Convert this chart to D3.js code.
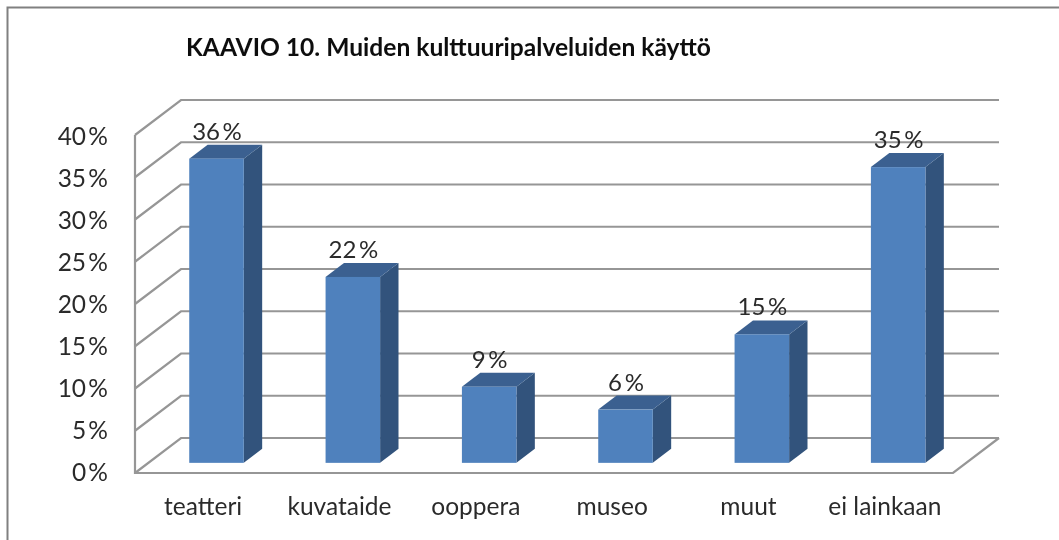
<!DOCTYPE html>
<html>
	<head>
		<meta charset="utf-8">
		<style type="text/css">
			html, body { margin: 0; padding: 0; background: #fff; overflow: hidden; }
			text { font-family: Lato, "Open Sans", sans-serif; fill: #2b2b2b; }
		</style>
		<title>KAAVIO 10</title>
	</head>
	<body>
		<script src="https://cdn.jsdelivr.net/npm/d3@7/dist/d3.min.js"></script>
		<script>
		var categories = ["teatteri", "kuvataide", "ooppera", "museo", "muut", "ei lainkaan"];
		var values = [36, 22, 9, 6.3, 15.2, 35];
		var labels = ["36 %", "22 %", "9 %", "6 %", "15 %", "35 %"];
		var ticks = [0, 5, 10, 15, 20, 25, 30, 35, 40];

		var width = 1059, height = 540;
		var depthX = 46, depthY = -35;
		var barFront = 0.29, barBack = 0.69;

		var svg = d3.select("body").append("svg")
			.attr("width", width)
			.attr("height", height);

		var x = d3.scaleBand().domain(categories).range([135, 953]).paddingInner(0.6).paddingOuter(0.3);
		var y = d3.scaleLinear().domain([0, 40]).range([473, 135]);
		// tick labels sit on a slightly tighter spacing than the grid
		var yLabel = d3.scaleLinear().domain([0, 40]).range([481, 145]);

		// a little blur, the reference is an upscaled screenshot
		svg.append("filter").attr("id", "soft")
			.attr("filterUnits", "userSpaceOnUse")
			.attr("x", 0).attr("y", 0).attr("width", width).attr("height", height)
			.append("feGaussianBlur").attr("stdDeviation", 0.5);

		var root = svg.append("g").attr("filter", "url(#soft)");

		// outer frame, runs off the right and bottom of the picture
		root.append("path")
			.attr("d", "M7.5,545 V7.5 H1065")
			.attr("fill", "none")
			.attr("stroke", "#808080")
			.attr("stroke-width", 2);

		// walls and grid
		var grid = root.append("g").attr("fill", "none").attr("stroke", "#969696").attr("stroke-width", 2.2);
		grid.selectAll("path.grid").data(ticks).enter()
			.append("path")
			.attr("class", "grid")
			.attr("d", function(d) {
				var l = x.range()[0], r = x.range()[1], py = y(d);
				return "M" + l + "," + py + " L" + (l + depthX) + "," + (py + depthY) + " L" + (r + depthX) + "," + (py + depthY);
			});
		grid.append("path")
			.attr("d", "M" + x.range()[0] + "," + y(40) + " L" + x.range()[0] + "," + y(0) + " L" + x.range()[1] + "," + y(0) + " L" + (x.range()[1] + depthX) + "," + (y(0) + depthY));

		// bars
		var bars = root.selectAll("g.bar").data(categories).enter()
			.append("g")
			.attr("class", "bar");

		function fx(d) { return x(d) + depthX * barFront; }
		function fy(i) { return y(values[i]) + depthY * barFront; }
		function base() { return y(0) + depthY * barFront; }
		var dx = depthX * (barBack - barFront), dy = depthY * (barBack - barFront);

		bars.append("path")
			.attr("fill", "#31527b")
			.attr("d", function(d, i) {
				var r = fx(d) + x.bandwidth();
				return "M" + r + "," + fy(i) + " L" + (r + dx) + "," + (fy(i) + dy) + " L" + (r + dx) + "," + (base() + dy) + " L" + r + "," + base() + "Z";
			});
		bars.append("path")
			.attr("fill", "#3a6090")
			.attr("d", function(d, i) {
				var l = fx(d), r = l + x.bandwidth();
				return "M" + l + "," + fy(i) + " L" + (l + dx) + "," + (fy(i) + dy) + " L" + (r + dx) + "," + (fy(i) + dy) + " L" + r + "," + fy(i) + "Z";
			});
		bars.append("rect")
			.attr("fill", "#4f81bd")
			.attr("x", fx)
			.attr("y", function(d, i) { return fy(i); })
			.attr("width", x.bandwidth())
			.attr("height", function(d, i) { return base() - fy(i); });

		// value labels
		root.selectAll("text.value").data(labels).enter()
			.append("text")
			.attr("class", "value")
			.attr("x", function(d, i) { return fx(categories[i]) + x.bandwidth() / 2 + 0.5; })
			.attr("y", function(d, i) { return fy(i) + dy - 5; })
			.attr("text-anchor", "middle")
			.attr("font-size", 24)
			.attr("word-spacing", -3.5)
			.text(function(d) { return d; });

		// y axis labels
		root.selectAll("text.tick").data(ticks).enter()
			.append("text")
			.attr("class", "tick")
			.attr("x", 108)
			.attr("y", function(d) { return yLabel(d); })
			.attr("text-anchor", "end")
			.attr("font-size", 24.5)
			.attr("word-spacing", -4)
			.text(function(d) { return d + " %"; });

		// category labels
		root.selectAll("text.cat").data(categories).enter()
			.append("text")
			.attr("class", "cat")
			.attr("x", function(d) { return x(d) + x.bandwidth() / 2; })
			.attr("y", 515)
			.attr("text-anchor", "middle")
			.attr("font-size", 24.5)
			.text(function(d) { return d; });

		root.append("text")
			.attr("x", 186)
			.attr("y", 56)
			.attr("font-size", 24.6)
			.attr("font-weight", "bold")
			.style("fill", "#111")
			.text("KAAVIO 10. Muiden kulttuuripalveluiden käyttö");
		</script>
	</body>
</html>
